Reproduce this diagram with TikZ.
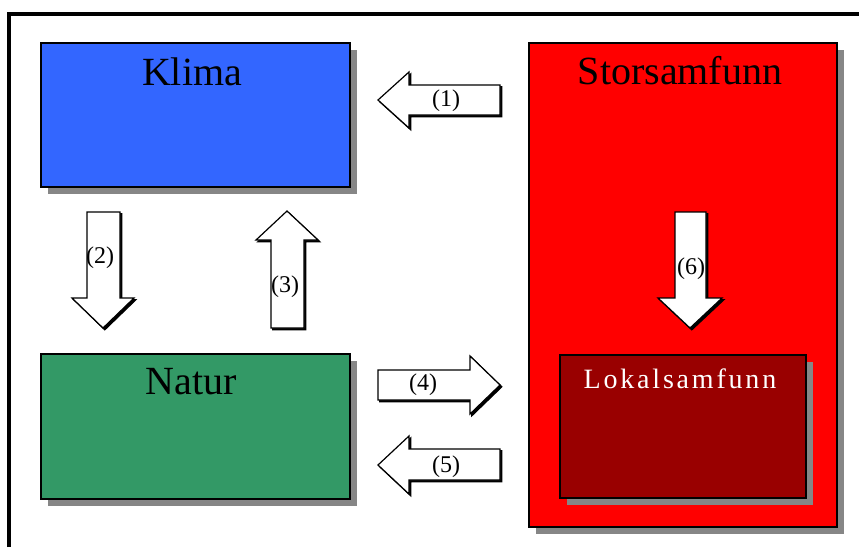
\documentclass[tikz,border=0pt]{standalone}
\usepackage{fontspec}
\setmainfont{Liberation Serif}
\usetikzlibrary{shadows}
\definecolor{klimablue}{HTML}{3366FF}
\definecolor{naturgreen}{HTML}{339966}
\definecolor{storred}{HTML}{FF0000}
\definecolor{lokalred}{HTML}{990000}
\definecolor{shadowgray}{HTML}{868686}
\tikzset{
  box/.style={draw=black, line width=1.5pt, rectangle, inner sep=0pt,
    drop shadow={shadow xshift=5.25pt, shadow yshift=-5.25pt, fill=shadowgray, opacity=1}},
  title/.style={font=\fontsize{30}{34}\selectfont, inner sep=0pt, anchor=base},
  lbl/.style={font=\fontsize{18}{20}\selectfont, inner sep=0pt},
  barrow/.style={draw=black, line width=0.9pt, fill=white, line join=miter},
  barrowshadow/.style={fill=black, draw=black, line width=0.9pt},
}
\begin{document}
\begin{tikzpicture}[x=0.75pt, y=-0.75pt]
\useasboundingbox (0,0) rectangle (859,547);
\fill[white] (0,0) rectangle (859,547);
% frame
\draw[line width=3pt] (9,547) -- (9,13.5) -- (859,13.5);
% boxes
\node[box, fill=klimablue, minimum width=309*0.75pt, minimum height=144*0.75pt] (klima) at (195.5,115) {};
\node[box, fill=naturgreen, minimum width=309*0.75pt, minimum height=145*0.75pt] (natur) at (195.5,426.5) {};
\node[box, fill=storred, minimum width=308*0.75pt, minimum height=484*0.75pt] (stor) at (683,285) {};
\node[box, fill=lokalred, minimum width=246*0.75pt, minimum height=143*0.75pt] (lokal) at (683,426.5) {};
% titles
\node[title] (klimaT) at (192,85) {Klima};
\node[title] (naturT) at (191,394) {Natur};
\node[title] (storT) at (680,84) {Storsamfunn};
\node[title, text=white, font=\fontsize{21}{24}\selectfont\addfontfeatures{LetterSpace=10}] (lokalT) at (680,388) {Lokalsamfunn};
% block arrows: shadow first, then the white arrow
\begin{scope}[shift={(1.8,1.8)}]
  \draw[barrowshadow] (378,100) -- (409,72) -- (409,85) -- (500,85) -- (500,115) -- (409,115) -- (409,128) -- cycle;
  \draw[barrowshadow] (103,328) -- (72,298) -- (87,298) -- (87,212) -- (120,212) -- (120,298) -- (134,298) -- cycle;
  \draw[barrowshadow] (287,211) -- (256,240) -- (271,240) -- (271,328) -- (304,328) -- (304,240) -- (318,240) -- cycle;
  \draw[barrowshadow] (500,385) -- (470,356) -- (470,370) -- (378,370) -- (378,400) -- (470,400) -- (470,414) -- cycle;
  \draw[barrowshadow] (378,465) -- (409,436) -- (409,449) -- (500,449) -- (500,480) -- (409,480) -- (409,494) -- cycle;
  \draw[barrowshadow] (690,328) -- (658,298) -- (675,298) -- (675,212) -- (706,212) -- (706,298) -- (722,298) -- cycle;
\end{scope}
\draw[barrow] (378,100) -- (409,72) -- (409,85) -- (500,85) -- (500,115) -- (409,115) -- (409,128) -- cycle;
\draw[barrow] (103,328) -- (72,298) -- (87,298) -- (87,212) -- (120,212) -- (120,298) -- (134,298) -- cycle;
\draw[barrow] (287,211) -- (256,240) -- (271,240) -- (271,328) -- (304,328) -- (304,240) -- (318,240) -- cycle;
\draw[barrow] (500,385) -- (470,356) -- (470,370) -- (378,370) -- (378,400) -- (470,400) -- (470,414) -- cycle;
\draw[barrow] (378,465) -- (409,436) -- (409,449) -- (500,449) -- (500,480) -- (409,480) -- (409,494) -- cycle;
\draw[barrow] (690,328) -- (658,298) -- (675,298) -- (675,212) -- (706,212) -- (706,298) -- (722,298) -- cycle;
% labels
\node[lbl] (l1) at (446,101) {(1)};
\node[lbl] (l2) at (100,258) {(2)};
\node[lbl] (l3) at (285,287) {(3)};
\node[lbl] (l4) at (423,385) {(4)};
\node[lbl] (l5) at (446,467) {(5)};
\node[lbl] (l6) at (691,269) {(6)};
\end{tikzpicture}
\end{document}
